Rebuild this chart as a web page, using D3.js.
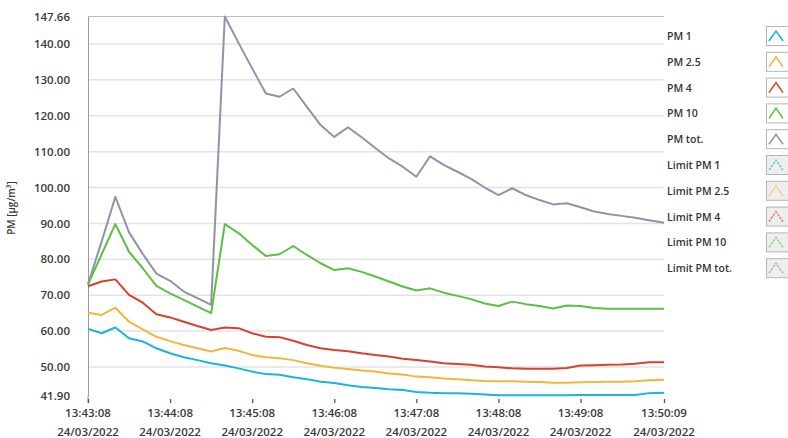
<!DOCTYPE html>
<html><head><meta charset="utf-8">
<script src="https://cdn.jsdelivr.net/npm/d3@7"></script>
<style>html,body{margin:0;padding:0;background:#fff;}svg{display:block;font-family:"Open Sans",sans-serif;}</style>
</head><body><svg id="c" width="788" height="438"></svg>
<script>
const times = ["13:43:08","13:43:18","13:43:28","13:43:38","13:43:48","13:43:58",
"13:44:08","13:44:18","13:44:28","13:44:38","13:44:48","13:44:58",
"13:45:08","13:45:18","13:45:28","13:45:38","13:45:48","13:45:58",
"13:46:08","13:46:18","13:46:28","13:46:38","13:46:48","13:46:58",
"13:47:08","13:47:18","13:47:28","13:47:38","13:47:48","13:47:58",
"13:48:08","13:48:18","13:48:28","13:48:38","13:48:48","13:48:58",
"13:49:08","13:49:18","13:49:28","13:49:38","13:49:48","13:49:58","13:50:09"];
const pm1 = [60.6,59.4,61.0,58.0,57.1,55.2,53.8,52.7,51.9,51.0,
50.4,49.6,48.7,48.0,47.8,47.1,46.6,45.9,45.5,44.9,
44.4,44.1,43.8,43.6,43.0,42.8,42.7,42.7,42.5,42.3,
42.1,42.1,42.1,42.1,42.1,42.1,42.2,42.2,42.2,42.2,42.2,42.7,42.8];
const pm25 = [65.1,64.5,66.5,62.6,60.5,58.4,57.2,56.1,55.2,54.3,
55.3,54.5,53.3,52.7,52.4,51.9,51.0,50.3,49.8,49.4,
49.0,48.7,48.2,47.9,47.3,47.1,46.8,46.6,46.3,46.1,
46.0,46.0,45.9,45.8,45.6,45.6,45.7,45.8,45.9,45.9,46.0,46.3,46.4];
const pm4 = [72.5,73.8,74.4,70.1,67.9,64.7,63.8,62.6,61.4,60.3,
61.0,60.8,59.4,58.4,58.3,57.3,56.1,55.2,54.7,54.4,
53.8,53.3,52.9,52.3,51.9,51.5,51.0,50.8,50.6,50.1,
49.9,49.6,49.5,49.5,49.5,49.7,50.4,50.5,50.6,50.7,50.9,51.3,51.3];
const pm10 = [73.0,81.4,89.8,82.1,77.5,72.6,70.5,68.7,66.8,65.0,
89.8,87.3,84.0,80.9,81.4,83.7,81.2,78.9,77.0,77.5,
76.5,75.2,73.8,72.4,71.3,71.9,70.7,69.8,68.9,67.7,
67.0,68.2,67.5,67.0,66.3,67.1,67.0,66.4,66.2,66.2,66.2,66.2,66.2];
const pmTot = [73.0,85.0,97.4,87.5,81.5,76.0,74.0,71.0,69.2,67.3,
147.66,140.3,133.2,126.2,125.3,127.6,122.5,117.4,114.1,116.8,
114.0,111.0,108.1,105.8,103.0,108.7,106.3,104.4,102.4,100.0,
97.9,99.8,97.9,96.5,95.3,95.6,94.5,93.3,92.6,92.1,91.6,90.9,90.2];
const seriesNames = ["PM 1","PM 2.5","PM 4","PM 10","PM tot."];
const seriesColors = ["#1cb4d8","#f2b53e","#d8412e","#5cbf3f","#8c95a8"];
const limitNames = ["Limit PM 1","Limit PM 2.5","Limit PM 4","Limit PM 10","Limit PM tot."];
const yTicks = [41.90,50,60,70,80,90,100,110,120,130,140,147.66];
const xTickTimes = ["13:43:08","13:44:08","13:45:08","13:46:08","13:47:08","13:48:08","13:49:08","13:50:09"];
const dateLabel = "24/03/2022";
const yTitle = "PM [µg/m³]";

const svg = d3.select("#c");
const L=88, R=664, T=16.5, B=396;
const parse = d3.timeParse("%H:%M:%S");
const x = d3.scaleTime().domain([parse(times[0]), parse(times[times.length-1])]).range([L,R]);
const y = d3.scaleLinear().domain([41.90,147.66]).range([B,T]);

// grid
svg.append("g").selectAll("line").data(yTicks.filter(v=>v>42&&v<147)).join("line")
  .attr("x1",L).attr("x2",R).attr("y1",d=>y(d)).attr("y2",d=>y(d))
  .attr("stroke","#e3e3e3").attr("stroke-width",1.5);
svg.append("line").attr("x1",L).attr("x2",R).attr("y1",y(147.66)).attr("y2",y(147.66))
  .attr("stroke","#bdbdbd").attr("stroke-width",1);
// left axis
const yAxis = d3.axisLeft(y).tickValues(yTicks).tickSize(0).tickPadding(18).tickFormat(d3.format(".2f"));
const gy = svg.append("g").attr("transform",`translate(${L},0)`).call(yAxis);
gy.select(".domain").attr("stroke","#9a9a9a").attr("stroke-width",1);
gy.selectAll("text").attr("font-size",11.5).attr("fill","#3a3a3a").attr("font-family","Open Sans, sans-serif").attr("font-weight",600);
svg.append("line").attr("x1",L).attr("x2",L).attr("y1",B).attr("y2",B+7).attr("stroke","#9a9a9a");

// x axis
const gx = svg.append("g").attr("transform",`translate(0,${B})`)
  .call(d3.axisBottom(x).tickValues(xTickTimes.map(parse)).tickSize(7).tickFormat(""));
gx.select(".domain").remove();
gx.selectAll("line").attr("stroke","#555").attr("stroke-width",1.3).attr("y1",3);
const xl = svg.append("g").selectAll("text").data(xTickTimes).join("text")
  .attr("x",d=>x(parse(d))).attr("text-anchor","middle")
  .attr("font-size",11.5).attr("fill","#3a3a3a").attr("font-weight",600);
xl.append("tspan").attr("x",d=>x(parse(d))).attr("y",417).text(d=>d);
xl.append("tspan").attr("x",d=>x(parse(d))).attr("y",436).text(dateLabel);

// y title
svg.append("text").attr("transform","translate(15,208) rotate(-90)").attr("text-anchor","middle")
  .attr("font-size",10).attr("fill","#3a3a3a").attr("font-weight",600).text(yTitle);

// lines
const allSeries = [pm1,pm25,pm4,pm10,pmTot];
const line = d3.line().x((d,i)=>x(parse(times[i]))).y(d=>y(d));
const order = [4,3,2,1,0];
order.forEach(k=>{
  svg.append("path").datum(allSeries[k]).attr("d",line).attr("fill","none")
    .attr("stroke",seriesColors[k]).attr("stroke-width",2).attr("stroke-linejoin","round");
});

// legend
const legNames = seriesNames.concat(limitNames);
const lg = svg.append("g");
legNames.forEach((n,i)=>{
  const cy = 36 + i*25.8;
  const isLimit = i>=5;
  const col = seriesColors[i%5];
  lg.append("text").attr("x",667).attr("y",cy+4).attr("font-size",10.5).attr("fill","#333")
    .attr("font-weight",600).text(n);
  lg.append("rect").attr("x",766.5).attr("y",cy-9.5).attr("width",24).attr("height",19)
    .attr("fill",isLimit?"#eeeeee":"#ffffff").attr("stroke","#b5b5b5").attr("stroke-width",1);
  lg.append("polyline").attr("points",`${769},${cy+5} ${776},${cy-5} ${783},${cy+5}`)
    .attr("fill","none").attr("stroke",col).attr("stroke-width",isLimit?1.2:1.5)
    .attr("stroke-dasharray",isLimit?"2.5,1.2":null).attr("opacity",isLimit?0.8:1);
});
</script></body></html>
